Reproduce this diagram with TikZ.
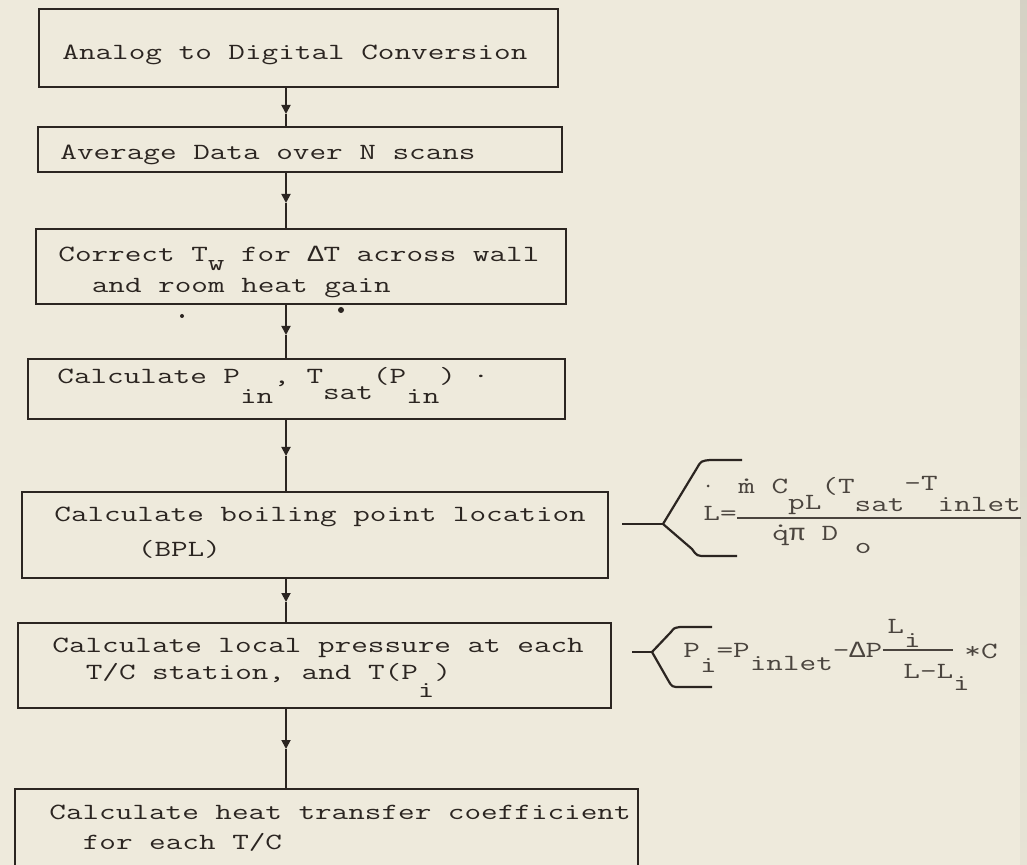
\documentclass[tikz,border=0pt]{standalone}
\usepackage{fontspec}
\usetikzlibrary{arrows.meta,fit}
\newfontfamily\tw{Latin Modern Mono}[FakeStretch=1.39]
\newfontfamily\twg{Liberation Mono}[FakeStretch=1.15]
\definecolor{paper}{HTML}{EEEADC}
\definecolor{ink}{HTML}{2B2521}
\definecolor{fink}{HTML}{4A443E}
\newcommand\lo[2][10pt]{\raisebox{-#1}{#2}}
\newcommand\dt[1]{\ooalign{#1\cr\hidewidth\raisebox{0.55em}{.}\hidewidth\cr}}
\newcommand\gk[1]{{\twg #1}}
\begin{document}
\begin{tikzpicture}[x=0.5pt,y=-0.5pt,
  box/.style={draw=ink, line width=1.1pt, inner sep=0pt},
  txt/.style={font=\tw\fontsize{11.6}{13}\selectfont, text=ink, inner sep=0pt, anchor=base west},
  ftxt/.style={txt, text=fink},
  conn/.style={draw=ink, line width=0.9pt, -{Triangle[width=4.5pt,length=4.5pt]}},
  wire/.style={draw=ink, line width=0.9pt},
  brace/.style={draw=ink, line width=1.1pt, line join=round},
  fline/.style={draw=fink, line width=0.9pt}]
\fill[paper] (0,0) rectangle (1027,865);
\shade[top color=paper!70!black!35!paper, bottom color=paper!85!black!20!paper] (1020,0) rectangle (1027,865);
\useasboundingbox (0,0) rectangle (1027,865);
\clip (0,0) rectangle (1027,865);

% boxes
\path (39,9) coordinate (b1a) (558,87) coordinate (b1b);
\node[box, fit=(b1a)(b1b)] (b1) {};
\path (38,127) coordinate (b2a) (562,172) coordinate (b2b);
\node[box, fit=(b2a)(b2b)] (b2) {};
\path (36,229) coordinate (b3a) (566,304) coordinate (b3b);
\node[box, fit=(b3a)(b3b)] (b3) {};
\path (28,359) coordinate (b4a) (565,419) coordinate (b4b);
\node[box, fit=(b4a)(b4b)] (b4) {};
\path (22,492) coordinate (b5a) (608,578) coordinate (b5b);
\node[box, fit=(b5a)(b5b)] (b5) {};
\path (18,623) coordinate (b6a) (611,708) coordinate (b6b);
\node[box, fit=(b6a)(b6b)] (b6) {};
\path (15,789) coordinate (b7a) (638,885) coordinate (b7b);
\node[box, fit=(b7a)(b7b)] (b7) {};

% texts
\node[txt] (t1) at (62,60) {Analog to Digital Conversion};
\node[txt] (t2) at (60,160) {Average Data over N scans};
\node[txt] (t3a) at (58,262) {Correct T\lo[4.5pt]{w} for \gk{Δ}T across wall};
\node[txt] (t3b) at (91.4,293) {and room heat gain};
\node[txt] (t4) at (57,384) {Calculate P\lo{in}, T\lo[8pt]{sat}(P\lo{in}) ·};
\node[txt] (t5a) at (54,521) {Calculate boiling point location};
\node[txt] (t5b) at (137.5,556) {(BPL)};
\node[txt] (t6a) at (52,652) {Calculate local pressure at each};
\node[txt] (t6b) at (85.4,679) {T/C station, and T(P\lo[9pt]{i})};
\node[txt] (t7a) at (49,819) {Calculate heat transfer coefficient};
\node[txt] (t7b) at (82.4,849) {for each T/C};

% connectors
\coordinate (ax) at (286,0);
\coordinate (m1) at (286,114);
\coordinate (m2) at (286,203);
\coordinate (m3) at (286,335);
\coordinate (m4) at (286,456);
\coordinate (m5) at (286,602);
\coordinate (m6) at (286,749);
\draw[conn] (b1.south -| ax) -- (m1); \draw[wire] (m1) -- (b2.north -| ax);
\draw[conn] (b2.south -| ax) -- (m2); \draw[wire] (m2) -- (b3.north -| ax);
\draw[conn] (b3.south -| ax) -- (m3); \draw[wire] (m3) -- (b4.north -| ax);
\draw[conn] (b4.south -| ax) -- (m4); \draw[wire] (m4) -- (b5.north -| ax);
\draw[conn] (b5.south -| ax) -- (m5); \draw[wire] (m5) -- (b6.north -| ax);
\draw[conn] (b6.south -| ax) -- (m6); \draw[wire] (m6) -- (b7.north -| ax);

% stray marks
\fill[ink] (182,316) circle (2);
\fill[ink] (341,310) circle (3);
\fill[fink] (708,486) circle (1.5);

% brace 1 and formula for L
\coordinate (s1) at (622,524);
\coordinate (v1) at (663,524);
\draw[brace] (s1) -- (v1);
\draw[brace] (v1) -- (697,468) .. controls (701,461) .. (710,460) -- (742,460);
\draw[brace] (v1) -- (692,549) .. controls (697,556) .. (706,556) -- (737,556);
\node[ftxt] (f1L) at (703,520) {L=};
\node[ftxt] (f1n) at (738,494) {\dt{m} C\lo[8pt]{pL}(T\lo[9pt]{sat}\raisebox{1.5pt}{-T}\lo[9pt]{inlet}};
\node[ftxt] (f1d) at (772,540) {\dt{q}\gk{π} D \lo[6.5pt]{o}};
\coordinate (f1e) at (1021,518);
\draw[fline] (f1L.east |- f1e) -- (f1e);

% brace 2 and formula for P_i
\coordinate (s2) at (632,652);
\coordinate (v2) at (652,652);
\draw[brace] (s2) -- (v2);
\draw[brace] (v2) -- (671,632) .. controls (674,628) .. (680,627) -- (712,627);
\draw[brace] (v2) -- (668,680) .. controls (672,687) .. (680,687) -- (712,687);
\node[ftxt] (f2a) at (683,657) {P\lo[7.5pt]{i}=P\lo[6.5pt]{inlet}-\gk{Δ}P};
\coordinate (f2e) at (953,650);
\draw[fline] (f2a.east |- f2e) -- (f2e);
\node[ftxt] (f2n) at (887,633) {L\lo[7pt]{i}};
\node[ftxt] (f2d) at (903,678) {L-L\lo[6pt]{i}};
\node[ftxt] (f2c) at (964,658) {*C};
\end{tikzpicture}
\end{document}
